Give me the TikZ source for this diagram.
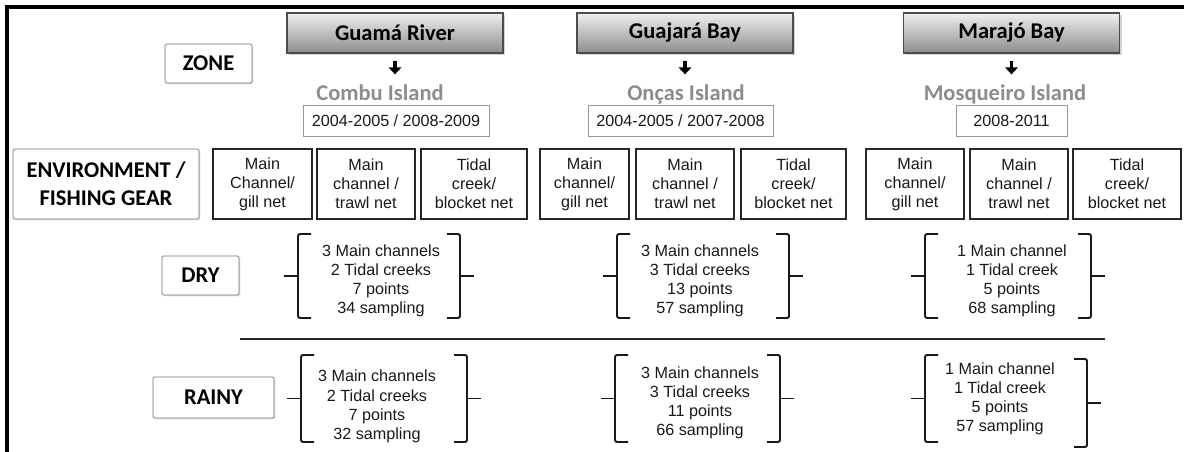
\documentclass[tikz,border=0pt]{standalone}
\usepackage{fontspec}
\setmainfont{Liberation Sans}
\newfontfamily\calibri{Carlito}
\usetikzlibrary{arrows.meta,shadows}
\newcommand\labelfont{\calibri\bfseries\fontsize{16}{20}\selectfont}
\newcommand\listfont{\fontsize{11.5}{13.6}\selectfont}
\def\openbrack(#1,#2,#3){\draw[brack] ({#1+13},#2) -- (#1,#2) -- (#1,#3) -- ({#1+13},#3); \draw[brack] (#1,{(#2+#3)/2}) -- ({#1-14},{(#2+#3)/2});}
\def\closebrack(#1,#2,#3){\draw[brack] ({#1-13},#2) -- (#1,#2) -- (#1,#3) -- ({#1-13},#3); \draw[brack] (#1,{(#2+#3)/2}) -- ({#1+14},{(#2+#3)/2});}
\tikzset{
	labelbox/.style={draw=black!55, line width=0.6pt, fill=white, rounded corners=1pt, font=\labelfont, align=center, drop shadow={opacity=0.25, shadow xshift=1pt, shadow yshift=-1pt}},
	zonetitle/.style={draw=black!70, line width=0.8pt, top color=black!6, bottom color=black!45, minimum width=5.4cm, minimum height=1cm, font=\labelfont, drop shadow={opacity=0.35, shadow xshift=1.5pt, shadow yshift=-1.5pt}},
	island/.style={inner sep=0pt, text height=12pt, text depth=3pt, font=\labelfont, text=black!45},
	yearbox/.style={draw=black!40, line width=0.5pt, fill=white, minimum height=0.775cm, font=\listfont, text=black!90, drop shadow={opacity=0.15, shadow xshift=0.8pt, shadow yshift=-0.8pt}},
	gearbox/.style={draw=black!85, line width=1.2pt, fill=white, minimum height=1.75cm, align=center, font=\listfont, text=black!90, drop shadow={opacity=0.25, shadow xshift=0.8pt, shadow yshift=-0.8pt}},
	counts/.style={align=center, font=\listfont, text=black!90},
	brack/.style={line width=1.4pt, color=black!90, rounded corners=1.5pt},
	downarrow/.style={-{Triangle[width=9pt,length=5pt]}, line width=2.8pt, shorten <=0.18cm, shorten >=0.22cm}
}

\begin{document}
\begin{tikzpicture}[x=0.025cm, y=-0.025cm]
		%%%%% START %%%%%
		\useasboundingbox (0,0) rectangle (1184,452);
		
		\draw[line width=2.2pt] (1184,7) -- (7,7) -- (7,452);
		
		% zones
		\node[zonetitle] (guama) at (395,33) {Guamá River};
		\node[zonetitle] (guajara) at (685,33) {Guajará Bay};
		\node[zonetitle] (marajo) at (1011.5,33) {Marajó Bay};
		
		\node[island] (combu) at (380,94) {Combu Island};
		\node[island] (oncas) at (686,94) {Onças Island};
		\node[island] (mosqueiro) at (1005,94) {Mosqueiro Island};
		
		\draw[downarrow] (guama.south) -- (guama.south |- combu.north);
		\draw[downarrow] (guajara.south) -- (guajara.south |- oncas.north);
		\draw[downarrow] (marajo.south) -- (marajo.south |- mosqueiro.north);
		
		\node[yearbox, minimum width=4.65cm] (combuyears) at (396,120.5) {2004-2005 / 2008-2009};
		\node[yearbox, minimum width=4.625cm] (oncasyears) at (680.5,120.5) {2004-2005 / 2007-2008};
		\node[yearbox, minimum width=2.775cm] (mosqueiroyears) at (1011.5,120.5) {2008-2011};
		
		% row labels
		\node[labelbox, minimum width=2.175cm, minimum height=0.975cm] (zone) at (208.5,63.5) {ZONE};
		\node[labelbox, minimum width=4.65cm, minimum height=1.75cm] (envgear) at (106,184) {ENVIRONMENT /\\FISHING GEAR};
		\node[labelbox, minimum width=1.925cm, minimum height=0.975cm] (dry) at (200.5,275.5) {DRY};
		\node[labelbox, minimum width=3.025cm, minimum height=1.025cm] (rainy) at (213.5,397.5) {RAINY};
		
		% environment / fishing gear
		\node[gearbox, minimum width=2.475cm] (guamagill) at (262.5,184) {Main\\Channel/\\gill net};
		\node[gearbox, minimum width=2.45cm] (guamatrawl) at (366,184) {Main\\channel /\\trawl net};
		\node[gearbox, minimum width=2.65cm] (guamablock) at (474,184) {Tidal\\creek/\\blocket net};
		\node[gearbox, minimum width=2.225cm] (guajaragill) at (584.5,184) {Main\\channel/\\gill net};
		\node[gearbox, minimum width=2.45cm] (guajaratrawl) at (685,184) {Main\\channel /\\trawl net};
		\node[gearbox, minimum width=2.625cm] (guajarablock) at (793.5,184) {Tidal\\creek/\\blocket net};
		\node[gearbox, minimum width=2.45cm] (marajogill) at (915,184) {Main\\channel/\\gill net};
		\node[gearbox, minimum width=2.45cm] (marajotrawl) at (1019,184) {Main\\channel /\\trawl net};
		\node[gearbox, minimum width=2.7cm] (marajoblock) at (1127,184) {Tidal\\creek/\\blocket net};
		
		% dry season
		\node[counts] (guamadry) at (381,281) {3 Main channels\\2 Tidal creeks\\7 points\\34 sampling};
		\node[counts] (guajaradry) at (700,281) {3 Main channels\\3 Tidal creeks\\13 points\\57 sampling};
		\node[counts] (marajodry) at (1012,281) {1 Main channel\\1 Tidal creek\\5 points\\68 sampling};
		\openbrack(298,234,318) \closebrack(460,234,318)
		\openbrack(617,234,318) \closebrack(789,234,318)
		\openbrack(925,234,318) \closebrack(1091,234,318)
		
		\coordinate (sepstart) at (240,339);
		\coordinate (sepend) at (1105,339);
		\draw[line width=1.6pt, color=black!85] (sepstart) -- (sepend);
		
		% rainy season
		\node[counts] (guamarainy) at (377,406.5) {3 Main channels\\2 Tidal creeks\\7 points\\32 sampling};
		\node[counts] (guajararainy) at (700,402.75) {3 Main channels\\3 Tidal creeks\\11 points\\66 sampling};
		\node[counts] (marajorainy) at (1000,399) {1 Main channel\\1 Tidal creek\\5 points\\57 sampling};
		\openbrack(301,355,442) \closebrack(467,355,442)
		\openbrack(615,355,442) \closebrack(780,355,442)
		\openbrack(925,355,442) \closebrack(1087,359,447)
		
		%%%%% END %%%%%
\end{tikzpicture}
\end{document}
